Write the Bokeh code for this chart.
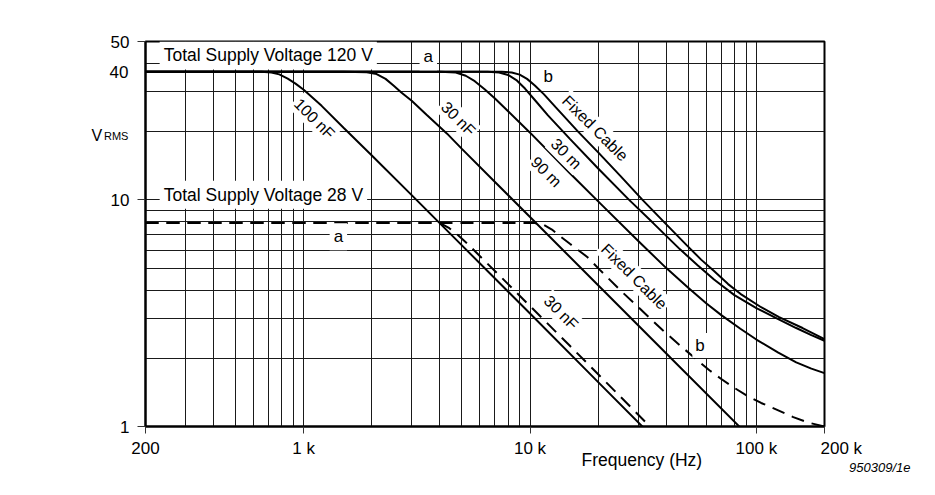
from bokeh.plotting import figure
from bokeh.models import FixedTicker, Label, Range1d, BasicTickFormatter
from bokeh.embed import file_html
from bokeh.resources import INLINE

FONT = "Liberation Sans"

# ---- axes / ticks ----
x_ticks = [200, 1000, 10000, 100000, 200000]
x_tick_labels = ["200", "1 k", "10 k", "100 k", "200 k"]
y_ticks = [1, 10, 50]
y_tick_labels = ["1", "10", "50"]
flat_tick_label = "40"
x_grid = [300, 400, 500, 600, 700, 800, 900, 1000,
          2000, 3000, 4000, 5000, 6000, 7000, 8000, 9000, 10000,
          20000, 30000, 40000, 50000, 60000, 70000, 80000, 90000, 100000]
y_grid = [2, 3, 4, 5, 6, 7, 8, 9, 10, 20, 30, 40]

# ---- curves, total supply voltage 120 V (solid) ----
f_100nF = [200, 500, 650, 720, 780, 850, 920, 1000, 1200, 1500, 2000, 3000, 5000, 10000, 20000, 33000]
v_100nF = [36.8, 36.8, 36.8, 36.5, 35.8, 34.3, 32.6, 30.6, 26.0, 20.8, 15.7, 10.5, 6.3, 3.15, 1.57, 0.95]

f_30nF = [200, 1500, 1900, 2100, 2300, 2500, 2700, 3000, 3500, 4300, 5000, 7000, 10000, 20000, 40000, 88000]
v_30nF = [36.8, 36.8, 36.6, 35.9, 34.2, 31.9, 29.8, 27.4, 23.7, 19.6, 16.8, 12.0, 8.4, 4.2, 2.1, 0.955]

f_90m = [200, 4000, 4700, 5200, 5700, 6300, 7000, 8000, 10000, 15000, 20000, 30000, 40000, 50000,
         60000, 70000, 85000, 100000, 125000, 150000, 175000, 200000]
v_90m = [36.8, 36.8, 36.5, 35.3, 33.4, 30.8, 28.0, 24.6, 19.8, 13.1, 9.85, 6.6, 5.0, 4.1,
         3.5, 3.1, 2.7, 2.42, 2.12, 1.92, 1.8, 1.72]

f_30m = [200, 6500, 7300, 8000, 8700, 9500, 10500, 12000, 15000, 20000, 27400, 35000, 46000, 55000,
         65000, 80000, 100000, 123000, 150000, 175000, 200000]
v_30m = [36.8, 36.8, 36.5, 35.6, 33.8, 31.0, 27.6, 23.6, 18.6, 13.75, 10.0, 7.9, 6.05, 5.15,
         4.45, 3.8, 3.33, 3.0, 2.72, 2.53, 2.39]

f_fixed = [200, 7500, 8300, 9000, 9700, 10500, 11500, 13000, 16300, 20000, 25000, 31400, 40000, 49300,
           57000, 65000, 75000, 85000, 105000, 126000, 160000, 200000]
v_fixed = [36.8, 36.8, 36.5, 35.7, 34.2, 32.0, 29.3, 25.6, 20.0, 16.2, 12.8, 10.0, 7.8, 6.3,
           5.45, 4.85, 4.25, 3.85, 3.36, 3.04, 2.72, 2.43]

# ---- curves, total supply voltage 28 V (dashed) ----
f_30nF_28 = [200, 3800, 4100, 4400, 4800, 5300, 6000, 8000, 10000, 15000, 20000, 30000, 36000]
v_30nF_28 = [7.9, 7.9, 7.8, 7.5, 7.0, 6.4, 5.65, 4.25, 3.4, 2.27, 1.7, 1.13, 0.94]

f_fixed_28 = [200, 10500, 11500, 12500, 13500, 15000, 17900, 20400, 25000, 30700, 38700, 46000, 54500,
              62000, 70000, 80000, 90700, 105000, 120000, 145600, 170000, 200000]
v_fixed_28 = [7.9, 7.9, 7.75, 7.4, 6.95, 6.4, 5.6, 4.9, 4.0, 3.3, 2.65, 2.28, 1.97,
              1.77, 1.62, 1.48, 1.37, 1.27, 1.2, 1.1, 1.04, 1.0]

p = figure(width=919, height=479, x_axis_type="log", y_axis_type="log",
           x_range=Range1d(200, 200000), y_range=Range1d(1, 50),
           output_backend="svg", toolbar_location=None,
           min_border_left=145, min_border_right=95, min_border_top=41, min_border_bottom=53)
p.background_fill_color = "white"
p.border_fill_color = "white"
p.outline_line_color = "black"
p.outline_line_width = 2
p.outline_line_alpha = 1

# grid
p.xgrid.ticker = FixedTicker(ticks=x_grid)
p.ygrid.ticker = FixedTicker(ticks=y_grid)
for g in (p.xgrid, p.ygrid):
    g.grid_line_color = "#1a1a1a"
    g.grid_line_width = 1
    g.grid_line_alpha = 1

# axes
p.xaxis.ticker = FixedTicker(ticks=x_ticks, minor_ticks=[])
p.xaxis.formatter = BasicTickFormatter()
ov = {t: l for t, l in zip(x_ticks, x_tick_labels)}
ov[200000] = ""
p.xaxis.major_label_overrides = ov
p.yaxis.ticker = FixedTicker(ticks=y_ticks, minor_ticks=[])
p.yaxis.formatter = BasicTickFormatter()
p.yaxis.major_label_overrides = {t: l for t, l in zip(y_ticks, y_tick_labels)}
for ax in (p.xaxis, p.yaxis):
    ax.axis_line_width = 2
    ax.axis_line_color = "black"
    ax.major_tick_in = 0
    ax.major_tick_line_color = "#333333"
    ax.major_tick_line_width = 1
    ax.minor_tick_line_color = None
    ax.major_label_text_font = FONT
    ax.major_label_text_font_size = "17px"
    ax.major_label_text_color = "black"
p.xaxis.major_tick_out = 7
p.xaxis.major_label_standoff = 5
p.yaxis.major_tick_out = 8
p.yaxis.major_label_standoff = 8

# curves
for fx, vy in [(f_100nF, v_100nF), (f_30nF, v_30nF), (f_90m, v_90m), (f_30m, v_30m), (f_fixed, v_fixed)]:
    p.line(fx, vy, line_color="black", line_width=2)
for fx, vy in [(f_30nF_28, v_30nF_28), (f_fixed_28, v_fixed_28)]:
    p.line(fx, vy, line_color="black", line_width=2, line_dash="13 8")

ROT = -0.785398


def lab(x, y, text, angle=0.0, align="center", baseline="middle", size="16px", bg=True,
        xo=0, yo=0, style="normal", pad=3, side=None):
    kw = dict(x=x, y=y, text=text, angle=angle, text_align=align, text_baseline=baseline,
              text_font=FONT, text_font_size=size, text_color="black", x_offset=xo, y_offset=yo,
              text_font_style=style)
    if bg:
        kw.update(background_fill_color="white", background_fill_alpha=1.0, padding=pad)
    if side is None:
        p.add_layout(Label(**kw))
    else:
        p.add_layout(Label(**kw), side)


lab(231, 43.4, "Total Supply Voltage 120 V", align="left", size="17.5px", pad=4)
lab(3552, 42.8, "a", size="17px", pad=4)
lab(12030, 34.9, "b", size="17px", pad=2)
lab(1115, 22.8, "100 nF", angle=ROT, pad=2)
lab(4818, 22.8, "30 nF", angle=ROT, pad=2)
lab(19400, 20.7, "Fixed Cable", angle=ROT, pad=2)
lab(14440, 15.98, "30 m", angle=ROT, pad=2)
lab(11790, 13.3, "90 m", angle=ROT, pad=2)
lab(231, 10.54, "Total Supply Voltage 28 V", align="left", size="17.5px", pad=4)
lab(1423, 6.88, "a", size="17px", pad=4)
lab(13730, 3.18, "30 nF", angle=ROT, pad=2)
lab(28840, 4.59, "Fixed Cable", angle=ROT, pad=2)
lab(56400, 2.28, "b", size="17px", pad=3)

# texts outside the frame, placed in side panels (with spare room) so that they are not clipped
lab(200, 36.8, flat_tick_label, align="right", size="17px", bg=False, xo=-17, side="left")
lab(200, 20, "V", align="left", baseline="alphabetic", size="16px", bg=False, xo=-54, yo=-4, side="left")
lab(200, 20, "RMS", align="left", baseline="alphabetic", size="11px", bg=False, xo=-41.5, yo=-4, side="left")
lab(200000, 1, x_tick_labels[-1], align="left", baseline="top", size="17px", bg=False, xo=-4, yo=-12,
    side="right")
lab(31200, 1, "Frequency (Hz)", align="center", baseline="middle", size="17.5px", bg=False, yo=-33,
    side="above")
lab(200000, 1, "950309/1e", align="right", baseline="middle", size="13px", bg=False, xo=86, yo=-41,
    style="italic", side="above")

open("out.html", "w").write(file_html(p, INLINE))
